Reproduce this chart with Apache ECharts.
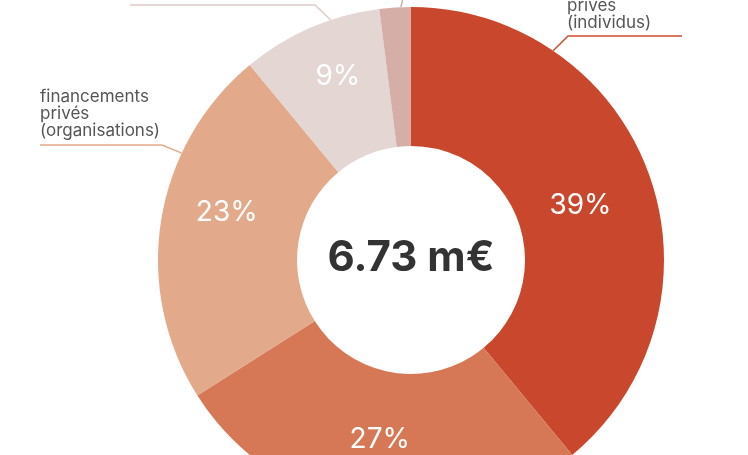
<!DOCTYPE html>
<html>
<head>
<meta charset="utf-8">
<script src="https://cdn.jsdelivr.net/npm/echarts@6/dist/echarts.min.js"></script>
<style>
  html, body { margin: 0; padding: 0; background: #ffffff; }
  #chart { width: 748px; height: 455px; }
</style>
</head>
<body>
<div id="chart"></div>
<script>
// ---- data ----
const categories = [
  'financements\nprivés\n(individus)',
  'financements\npublics',
  'financements\nprivés\n(organisations)',
  'recettes\npropres',
  'autres'
];
const shares = [39, 27, 23, 9, 2];
const totalLabel = '6.73 m€';

// ---- styles ----
const colors = ['#C9472D', '#D67856', '#E2A98A', '#E3D6D3', '#D5AEA7'];
const lineColors = ['#CF4B30', '#D67856', '#E2A98A', '#E0CBC7', '#D5AEA7'];
const CX = 411, CY = 260, R0 = 114, R1 = 253;

// offsets for the inside percentage labels (layout only)
const innerOffsets = [[-6, 9], [-2, -5], [0, -18], [1, -12], [0, 0]];

// outer label layout; edge angle measured clockwise from 12 o'clock
const outerLayout = {
  0: { x: 567, y: 31, align: 'left', elbow: [568, 36], end: [682, 36], ang: 34.2 },
  2: { x: 40, y: 139, align: 'left', elbow: [162, 145], end: [40, 145], ang: 295 },
  3: { x: 130, y: -3, align: 'left', elbow: [315, 5], end: [130, 5], ang: 341.5 },
  4: { x: 380, y: -14, align: 'left', elbow: [404, -6], end: [420, -6], ang: 357.7 }
};

function edgePoint(angDeg) {
  const a = angDeg * Math.PI / 180;
  return [CX + R1 * Math.sin(a), CY - R1 * Math.cos(a)];
}

const innerData = categories.map((c, i) => ({
  name: c,
  value: shares[i],
  itemStyle: { color: colors[i] },
  label: { show: shares[i] >= 5 }
}));

const outerData = categories.map((c, i) => ({
  name: c,
  value: shares[i],
  label: { show: outerLayout[i] !== undefined },
  labelLine: { show: outerLayout[i] !== undefined, lineStyle: { color: lineColors[i], width: 1.5 } }
}));

const chart = echarts.init(document.getElementById('chart'), null, { renderer: 'canvas' });
chart.setOption({
  backgroundColor: '#ffffff',
  animation: false,
  series: [
    {
      type: 'pie',
      center: [CX, CY],
      radius: [R0, R1],
      startAngle: 90,
      clockwise: true,
      silent: true,
      data: innerData,
      label: {
        position: 'inside',
        formatter: p => p.value + '%',
        color: '#ffffff',
        fontFamily: 'Inter',
        fontSize: 28,
        fontWeight: 400
      },
      labelLine: { show: false },
      labelLayout: p => {
        const o = innerOffsets[p.dataIndex] || [0, 0];
        return { dx: o[0], dy: o[1] };
      }
    },
    {
      type: 'pie',
      center: [CX, CY],
      radius: [R0, R1],
      startAngle: 90,
      clockwise: true,
      silent: true,
      data: outerData,
      itemStyle: { color: 'rgba(0,0,0,0)' },
      label: {
        position: 'outside',
        formatter: p => p.name,
        color: '#555555',
        fontFamily: 'Inter',
        fontSize: 17,
        lineHeight: 17,
        overflow: 'none',
        edgeDistance: 0
      },
      labelLine: { show: true, length: 10, length2: 10 },
      labelLayout: p => {
        const L = outerLayout[p.dataIndex];
        if (!L) return {};
        return {
          x: L.x,
          y: L.y,
          align: L.align,
          verticalAlign: 'bottom',
          labelLinePoints: [edgePoint(L.ang), L.elbow, L.end]
        };
      }
    }
  ],
  graphic: [
    {
      type: 'text',
      x: CX,
      y: CY - 2,
      style: {
        text: totalLabel,
        fill: '#333333',
        font: 'bold 42px Inter',
        align: 'center',
        verticalAlign: 'middle'
      }
    }
  ]
});
</script>
</body>
</html>
